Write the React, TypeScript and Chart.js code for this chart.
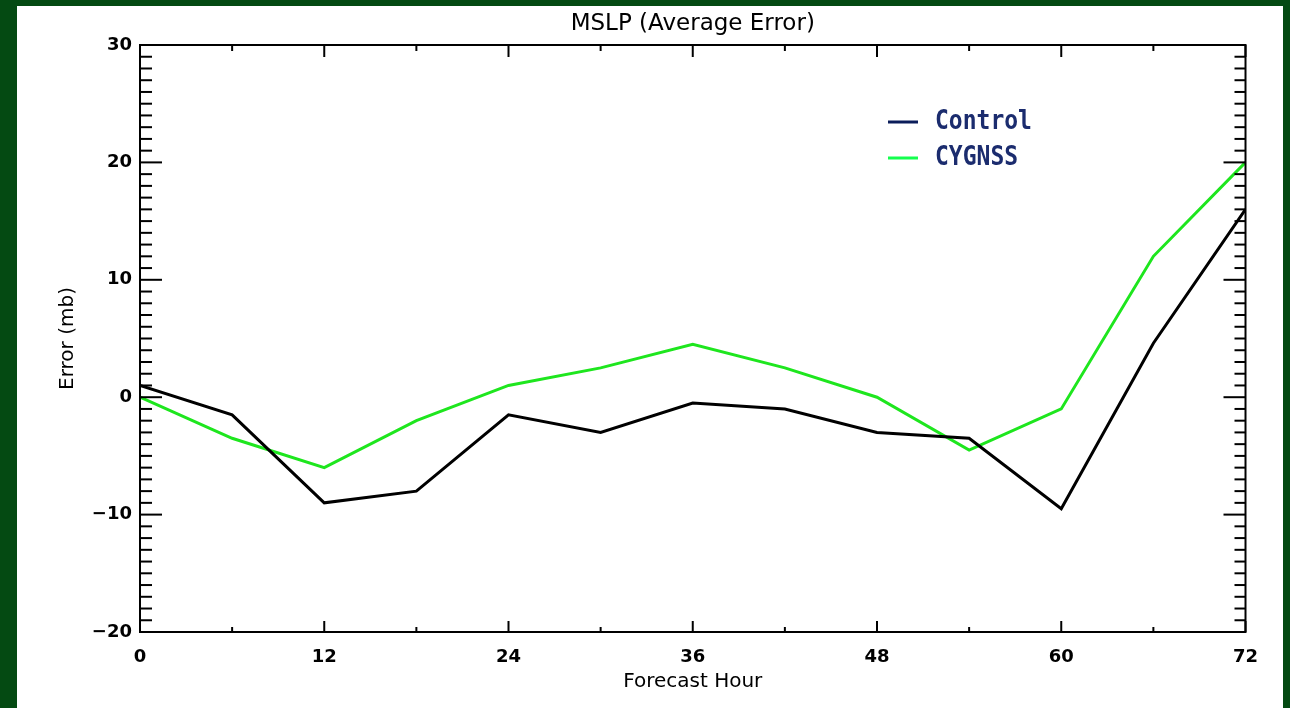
import React, { useEffect, useRef } from 'react';
import { Chart, registerables } from 'chart.js';

Chart.register(...registerables);

// ---- data ----
const hours = [0, 6, 12, 18, 24, 30, 36, 42, 48, 54, 60, 66, 72];
const controlErr = [1.0, -1.5, -9.0, -8.0, -1.5, -3.0, -0.5, -1.0, -3.0, -3.5, -9.5, 4.6, 16.0];
const cygnssErr = [0.0, -3.5, -6.0, -2.0, 1.0, 2.5, 4.5, 2.5, 0.0, -4.5, -1.0, 12.0, 20.0];
const seriesNames = ['Control', 'CYGNSS'];
const xTickStep = 12;
const yTickStep = 10;
const xMinorStep = 6;
const yMinorStep = 1;
const xRange = [0, 72];
const yRange = [-20, 30];
const chartTitle = 'MSLP (Average Error)';
const xTitle = 'Forecast Hour';
const yTitle = 'Error (mb)';

// ---- styles ----
const FONT = '"DejaVu Sans", "Liberation Sans", sans-serif';
const lineColors = ['#000000', '#1ee61e'];
const legendLineColors = ['#0b1d5a', '#14ff4e'];
const legendTextColor = '#1b2c6e';

const fmtTick = (v: number | string) => String(v).replace('-', '\u2212');

const framePlugin = {
  id: 'frameTicks',
  afterDraw(chart: any) {
    const { ctx, chartArea: a, scales } = chart;
    const x = scales.x;
    const y = scales.y;
    ctx.save();
    ctx.strokeStyle = '#000';
    ctx.lineWidth = 2;
    const seg = (x1: number, y1: number, x2: number, y2: number) => {
      ctx.beginPath();
      ctx.moveTo(x1, y1);
      ctx.lineTo(x2, y2);
      ctx.stroke();
    };
    // frame
    ctx.strokeRect(a.left, a.top, a.right - a.left, a.bottom - a.top);
    // y ticks (both sides)
    for (let v = yRange[0]; v <= yRange[1] + 1e-9; v += yMinorStep) {
      const py = y.getPixelForValue(v);
      const major = Math.abs(v % yTickStep) < 1e-9;
      seg(a.left, py, a.left + (major ? 22 : 12), py);
      seg(a.right, py, a.right - (major ? 22 : 11), py);
    }
    // x ticks (top & bottom)
    for (let v = xRange[0]; v <= xRange[1] + 1e-9; v += xMinorStep) {
      const px = x.getPixelForValue(v);
      const major = Math.abs(v % xTickStep) < 1e-9;
      seg(px, a.top, px, a.top + (major ? 12 : 6));
      seg(px, a.bottom, px, a.bottom - (major ? 11 : 5));
    }
    // title
    ctx.fillStyle = '#000';
    ctx.font = `23px ${FONT}`;
    ctx.textAlign = 'center';
    ctx.textBaseline = 'middle';
    ctx.fillText(chartTitle, (a.left + a.right) / 2, 18.5);

    // legend
    const legendX = 871;
    const legendY = [116, 152];
    seriesNames.forEach((name, i) => {
      ctx.strokeStyle = legendLineColors[i];
      ctx.lineWidth = 3;
      seg(legendX, legendY[i], legendX + 30, legendY[i]);
      ctx.save();
      ctx.translate(legendX + 47, legendY[i]);
      ctx.scale(1, 1.12);
      ctx.fillStyle = legendTextColor;
      ctx.font = `bold 23px "DejaVu Sans Mono", "Liberation Mono", monospace`;
      ctx.textAlign = 'left';
      ctx.textBaseline = 'middle';
      ctx.fillText(name, 0, 0);
      ctx.restore();
    });
    ctx.restore();
  },
};

export default function App() {
  const ref = useRef<HTMLCanvasElement>(null);

  useEffect(() => {
    document.body.style.margin = '0';
    const canvas = ref.current!;
    const seriesValues = [controlErr, cygnssErr];
    const chart = new Chart(canvas, {
      type: 'line',
      data: {
        datasets: seriesNames.map((name, i) => ({
          label: name,
          data: hours.map((h, j) => ({ x: h, y: seriesValues[i][j] })),
          borderColor: lineColors[i],
          backgroundColor: lineColors[i],
          borderWidth: 3,
          pointRadius: 0,
          tension: 0,
          fill: false,
        })),
      },
      options: {
        animation: false,
        responsive: false,
        devicePixelRatio: 1,
        layout: { padding: { top: 39, right: 37.5, left: 0, bottom: 0 } },
        plugins: {
          legend: { display: false },
          title: { display: false },
          tooltip: { enabled: false },
        },
        scales: {
          x: {
            type: 'linear',
            min: xRange[0],
            max: xRange[1],
            grid: { display: false, drawTicks: false },
            border: { display: false },
            ticks: {
              stepSize: xTickStep,
              color: '#000',
              padding: 15,
              maxRotation: 0,
              font: { family: FONT, size: 18, weight: 'bold' },
              callback: (v: any) => fmtTick(v),
            },
            title: {
              display: true,
              text: xTitle,
              color: '#000',
              font: { family: FONT, size: 20, lineHeight: 1.2 },
              padding: { top: 0, bottom: 14 },
            },
            afterFit(scale: any) {
              scale.height = 76;
            },
          },
          y: {
            type: 'linear',
            min: yRange[0],
            max: yRange[1],
            grid: { display: false, drawTicks: false },
            border: { display: false },
            ticks: {
              stepSize: yTickStep,
              color: '#000',
              padding: 8,
              font: { family: FONT, size: 18, weight: 'bold' },
              callback: (v: any) => fmtTick(v),
            },
            title: {
              display: true,
              text: yTitle,
              color: '#000',
              font: { family: FONT, size: 20, lineHeight: 1.2 },
              padding: { top: 39, bottom: 0 },
            },
            afterFit(scale: any) {
              scale.width = 123;
            },
          },
        },
      },
      plugins: [framePlugin],
    });
    return () => chart.destroy();
  }, []);

  return (
    <div
      style={{
        position: 'relative',
        width: 1290,
        height: 708,
        background: '#044a12',
        overflow: 'hidden',
      }}
    >
      <canvas
        ref={ref}
        width={1266}
        height={702}
        style={{ position: 'absolute', left: 17, top: 6, width: 1266, height: 702, background: '#ffffff' }}
      />
    </div>
  );
}
